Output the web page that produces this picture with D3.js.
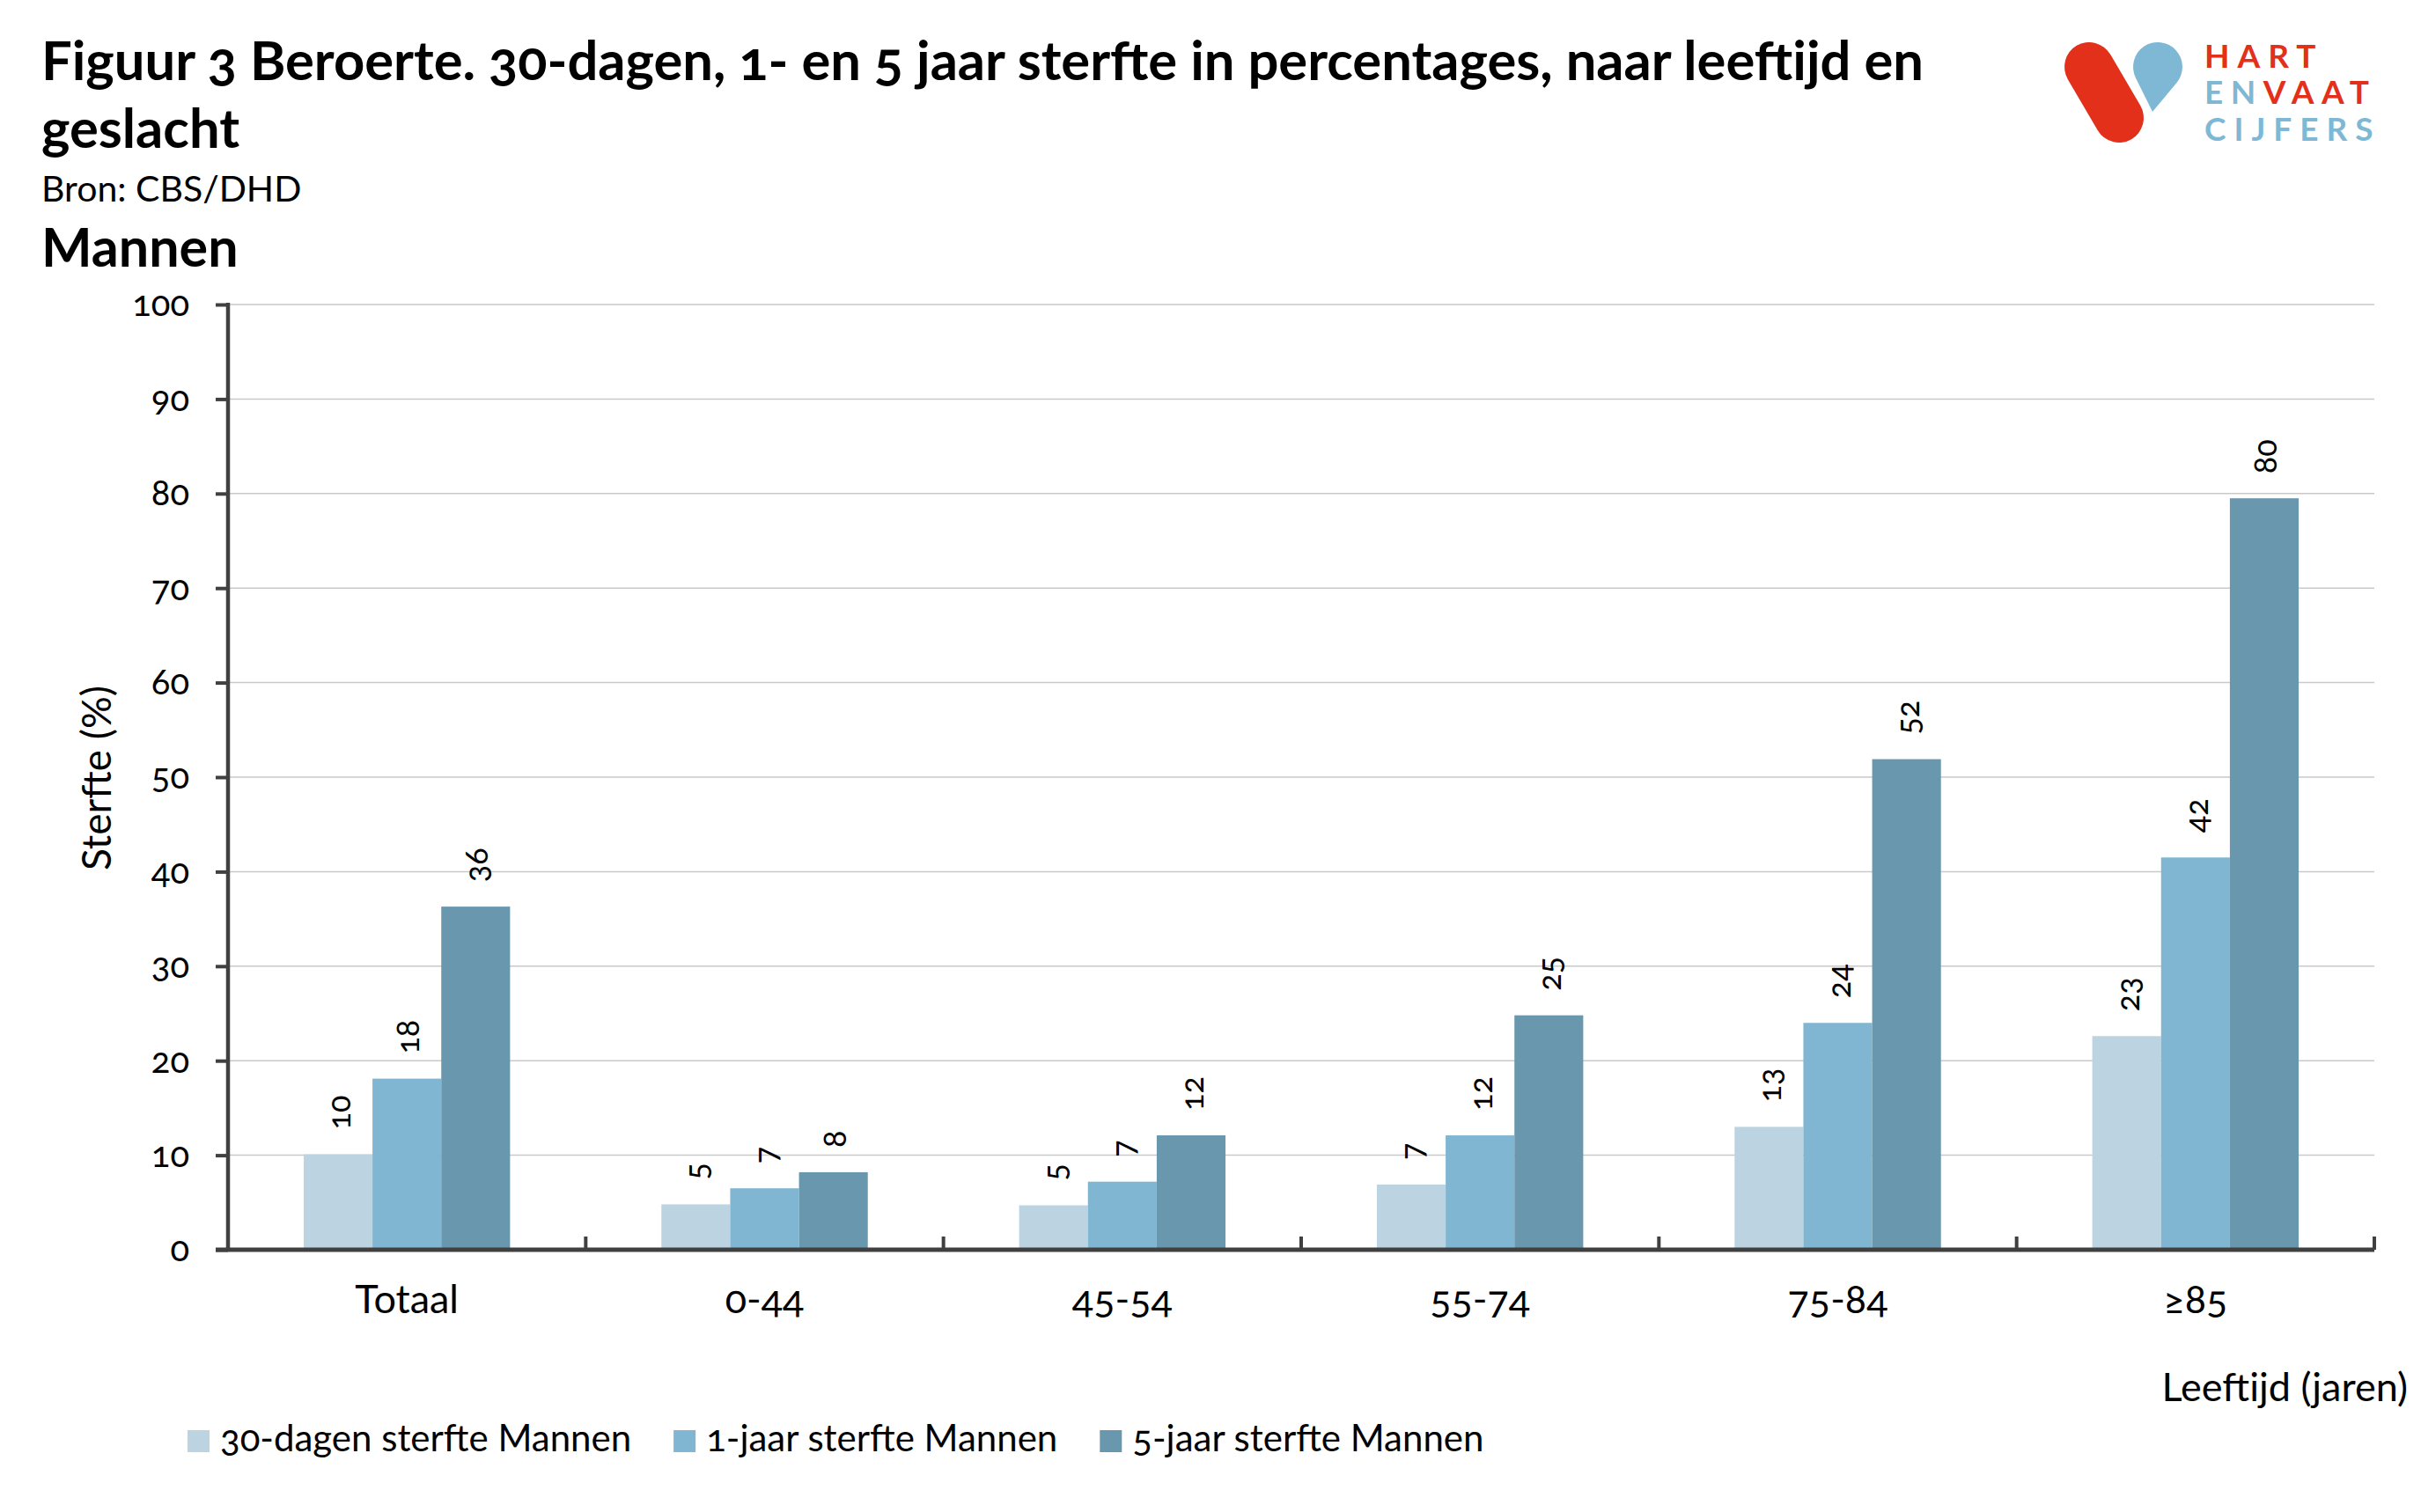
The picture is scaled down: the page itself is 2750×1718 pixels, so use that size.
<!DOCTYPE html>
<html>
<head>
<meta charset="utf-8">
<script src="https://cdn.jsdelivr.net/npm/d3@7"></script>
<style>
  html, body { margin: 0; padding: 0; background: #ffffff; }
  svg { display: block; }
  text { font-family: Lato, "Open Sans", sans-serif; fill: #000; font-variant-numeric: oldstyle-nums; }
</style>
</head>
<body>
<script>
// ---------- data ----------
const categories = ["Totaal", "0-44", "45-54", "55-74", "75-84", "≥85"];
const seriesNames = ["30-dagen sterfte Mannen", "1-jaar sterfte Mannen", "5-jaar sterfte Mannen"];
const sterfte30dagen = [10.1, 4.8, 4.7, 6.9, 13.0, 22.6];
const sterfte1jaar   = [18.1, 6.5, 7.2, 12.1, 24.0, 41.5];
const sterfte5jaar   = [36.3, 8.2, 12.1, 24.8, 51.9, 79.5];
const labels30dagen = ["10", "5", "5", "7", "13", "23"];
const labels1jaar   = ["18", "7", "7", "12", "24", "42"];
const labels5jaar   = ["36", "8", "12", "25", "52", "80"];
const yTickValues = [0, 10, 20, 30, 40, 50, 60, 70, 80, 90, 100];
const seriesColors = ["#BCD3E2", "#80B6D2", "#6897AE"];

const titleLines = ["Figuur 3 Beroerte. 30-dagen, 1- en 5 jaar sterfte in percentages, naar leeftijd en", "geslacht"];
const subtitle = "Bron: CBS/DHD";
const panelTitle = "Mannen";
const yTitle = "Sterfte (%)";
const xTitle = "Leeftijd (jaren)";

// ---------- setup ----------
const W = 2750, H = 1718;
const svg = d3.select("body").append("svg").attr("width", W).attr("height", H);

const plotLeft = 259, plotRight = 2697, plotTop = 346, plotBottom = 1420;

const x = d3.scaleBand().domain(categories).range([plotLeft, plotRight]).paddingInner(0).paddingOuter(0);
const xInner = d3.scaleBand().domain(seriesNames).range([0, x.bandwidth()]).paddingInner(0).paddingOuter(1.1);
const y = d3.scaleLinear().domain([0, 100]).range([plotBottom, plotTop]);

const valuesBySeries = [sterfte30dagen, sterfte1jaar, sterfte5jaar];
const labelsBySeries = [labels30dagen, labels1jaar, labels5jaar];

// ---------- titles ----------
const tl = svg.append("g");
tl.append("text").attr("x", 47).attr("y", 91).attr("font-size", 61.5).attr("font-weight", 700).text(titleLines[0]);
tl.append("text").attr("x", 47).attr("y", 168).attr("font-size", 61.5).attr("font-weight", 700).text(titleLines[1]);
tl.append("text").attr("x", 47).attr("y", 229).attr("font-size", 41).text(subtitle);
tl.append("text").attr("x", 47).attr("y", 303).attr("font-size", 61).attr("font-weight", 700).text(panelTitle);

// ---------- gridlines ----------
svg.append("g").selectAll("line").data(yTickValues.filter(d => d > 0)).join("line")
  .attr("x1", plotLeft).attr("x2", plotRight)
  .attr("y1", d => y(d)).attr("y2", d => y(d))
  .attr("stroke", "#C9C9C9").attr("stroke-width", 1.5);

// ---------- bars ----------
const barG = svg.append("g");
seriesNames.forEach((s, si) => {
  const vals = valuesBySeries[si];
  barG.append("g").selectAll("rect").data(categories.map((c, i) => ({c, v: vals[i]}))).join("rect")
    .attr("x", d => x(d.c) + xInner(s))
    .attr("width", xInner.bandwidth())
    .attr("y", d => y(d.v))
    .attr("height", d => y(0) - y(d.v))
    .attr("fill", seriesColors[si]);
});

// ---------- value labels ----------
const lblG = svg.append("g");
seriesNames.forEach((s, si) => {
  const vals = valuesBySeries[si];
  const labs = labelsBySeries[si];
  lblG.append("g").selectAll("text").data(categories.map((c, i) => ({c, v: vals[i], l: labs[i]}))).join("text")
    .attr("transform", d => `translate(${x(d.c) + xInner(s) + xInner.bandwidth() / 2},${y(d.v) - 28}) rotate(-90)`)
    .attr("text-anchor", "start")
    .attr("dominant-baseline", "central")
    .attr("font-size", 36)
    .text(d => d.l);
});

// ---------- y axis ----------
const yAxis = d3.axisLeft(y).tickValues(yTickValues).tickSize(14).tickPadding(30).tickFormat(d3.format("d"));
const yg = svg.append("g").attr("transform", `translate(${plotLeft},0)`).call(yAxis);
yg.select(".domain").remove();
yg.selectAll(".tick line").attr("stroke", "#404040").attr("stroke-width", 4);
yg.selectAll(".tick text").attr("font-size", 40).attr("font-family", "Lato, sans-serif").attr("fill", "#111");
svg.append("line").attr("x1", plotLeft).attr("x2", plotLeft).attr("y1", plotTop - 2).attr("y2", plotBottom + 2)
  .attr("stroke", "#404040").attr("stroke-width", 4.5);

// ---------- x axis ----------
svg.append("line").attr("x1", plotLeft - 14).attr("x2", plotRight).attr("y1", plotBottom).attr("y2", plotBottom)
  .attr("stroke", "#404040").attr("stroke-width", 5);
svg.append("g").selectAll("line").data(categories).join("line")
  .attr("x1", d => x(d) + x.bandwidth()).attr("x2", d => x(d) + x.bandwidth())
  .attr("y1", plotBottom).attr("y2", plotBottom - 15)
  .attr("stroke", "#404040").attr("stroke-width", 4);
svg.append("g").selectAll("text").data(categories).join("text")
  .attr("x", d => x(d) + x.bandwidth() / 2).attr("y", 1492)
  .attr("text-anchor", "middle").attr("font-size", 45)
  .text(d => d);

// axis titles
svg.append("text").attr("transform", "translate(126,884) rotate(-90)").attr("text-anchor", "middle")
  .attr("font-size", 46).text(yTitle);
svg.append("text").attr("x", 2735).attr("y", 1592).attr("text-anchor", "end").attr("font-size", 45).text(xTitle);

// ---------- legend ----------
const lg = svg.append("g");
let lx = 213;
seriesNames.forEach((s, si) => {
  lg.append("rect").attr("x", lx).attr("y", 1625).attr("width", 25).attr("height", 25).attr("fill", seriesColors[si]);
  const t = lg.append("text").attr("x", lx + 37).attr("y", 1649).attr("font-size", 42).text(s);
  lx = lx + 37 + t.node().getComputedTextLength() + 48;
});

// ---------- logo ----------
const logo = svg.append("g");
const red = "#E3301A", blue = "#7FB8D5";
logo.append("line").attr("x1", 2373).attr("y1", 76).attr("x2", 2407).attr("y2", 134)
  .attr("stroke", red).attr("stroke-width", 56).attr("stroke-linecap", "round");
(function () {
  const cx = 2451, cy = 76, r = 28, tx = 2445, ty = 127;
  const dx = tx - cx, dy = ty - cy, d = Math.hypot(dx, dy);
  const base = Math.atan2(dy, dx), off = Math.acos(r / d);
  const a1 = base + off, a2 = base - off;
  const p1 = [cx + r * Math.cos(a1), cy + r * Math.sin(a1)];
  const p2 = [cx + r * Math.cos(a2), cy + r * Math.sin(a2)];
  logo.append("path")
    .attr("d", `M${tx},${ty} L${p1[0]},${p1[1]} A${r},${r} 0 1 1 ${p2[0]},${p2[1]} Z`)
    .attr("fill", blue);
})();
const logoText = (yb, ls) => logo.append("text").attr("x", 2504).attr("y", yb)
  .attr("font-size", 37).attr("font-weight", 700).attr("letter-spacing", ls);
logoText(77, 9).append("tspan").style("fill", red).text("HART");
const env = logoText(118, 8.5);
env.append("tspan").style("fill", blue).text("EN");
env.append("tspan").style("fill", red).text("VAAT");
logoText(160, 9).append("tspan").style("fill", blue).text("CIJFERS");
</script>
</body>
</html>
